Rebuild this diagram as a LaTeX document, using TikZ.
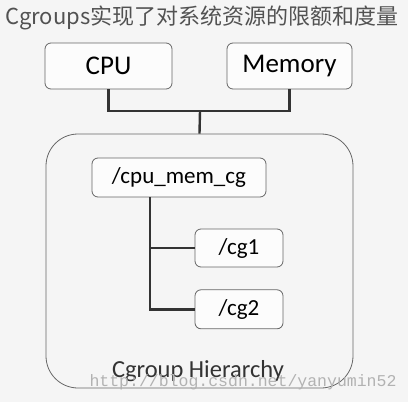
\documentclass[tikz,border=0pt]{standalone}
\usepackage{fontspec}
\setmainfont{Carlito}
\newfontfamily\cjk{Noto Sans CJK SC}
\newfontfamily\wmfont{Liberation Mono}
\usepackage{tikz}
\usetikzlibrary{positioning}

\begin{document}
\begin{tikzpicture}[x=1pt, y=-1pt, node distance=22pt,
  box/.style={draw=black!60, line width=0.8pt, rounded corners=6pt, fill=white!60!black!3, inner sep=0pt, font=\fontsize{23}{25}\selectfont},
  bigtext/.style={font=\fontsize{27}{29}\selectfont},
  hierbox/.style={draw=black!60, line width=0.8pt, rounded corners=32pt, inner sep=0pt},
  link/.style={draw=black!80, line width=2.4pt}]
\fill[black!4] (0,0) rectangle (408,402);
\useasboundingbox (0,0) rectangle (408,402);
\node[font=\cjk\fontsize{22}{24}\selectfont, text=black!68, inner sep=0pt] (title) at (202,18) {Cgroups实现了对系统资源的限额和度量};
\node[box, bigtext, minimum width=127pt, minimum height=46pt] (cpu) at (108.5,66) {CPU};
\node[box, bigtext, minimum width=125pt, minimum height=46pt] (mem) at (289.5,66) {Memory};
\node[hierbox, minimum width=307pt, minimum height=254pt] (hier) at (199.5,261) {};
\node[box, minimum width=174pt, minimum height=39pt] (root) at (179,177.5) {/cpu\_mem\_cg};
\node[box, minimum width=88pt, minimum height=38pt] (cg1) at (239,248) {/cg1};
\node[box, minimum width=88pt, minimum height=39pt, below=22pt of cg1] (cg2) {/cg2};
\node[font=\fontsize{24.5}{26}\selectfont, text=black!80, inner sep=0pt] (label) at (198,371) {Cgroup Hierarchy};
\node[font=\wmfont\fontsize{16.5}{18}\selectfont, text=black!30, inner sep=0pt] (mark) at (243,382) {http://blog.csdn.net/yanyumin52};
\coordinate (join) at (200,111);
\coordinate (trunk) at (150,311);
% upper tree
\draw[link] (cpu.south) |- (join) -| (mem.south);
\draw[link] (join) -- (hier.north);
% lower tree
\draw[link] (root.south -| trunk) |- (cg2.west);
\draw[link] (cg1.west) -- (cg1.west -| trunk);
\end{tikzpicture}
\end{document}
